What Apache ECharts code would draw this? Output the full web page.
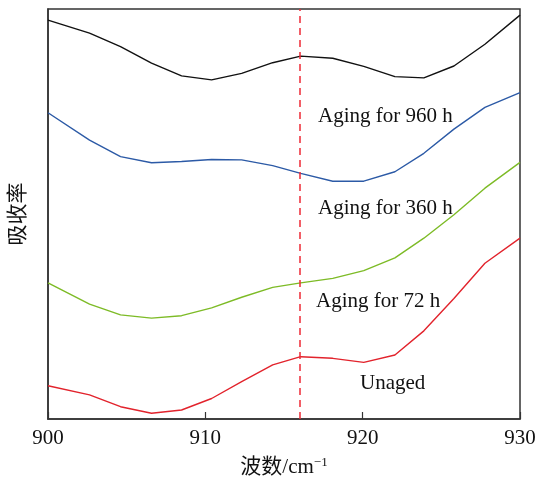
<!DOCTYPE html>
<html>
<head>
<meta charset="utf-8">
<script src="https://cdn.jsdelivr.net/npm/echarts@6/dist/echarts.min.js"></script>
<style>
  html, body { margin: 0; padding: 0; background: #fff; }
  #chart { width: 545px; height: 480px; }
</style>
</head>
<body>
<div id="chart"></div>
<script>
// 波数 (cm-1)
const wavenumbers = [900, 902.64, 904.61, 906.58, 908.49, 910.4, 912.31, 914.28, 916.06, 918.1, 920.07, 922.05, 923.89, 925.8, 927.77, 930]
// 吸收率, arbitrary units
const aged960 = [97.3, 94.1, 90.8, 86.8, 83.7, 82.7, 84.3, 86.9, 88.5, 88.0, 86.0, 83.5, 83.2, 86.1, 91.4, 98.5]
const aged360 = [74.7, 68.0, 64.0, 62.5, 62.8, 63.3, 63.2, 61.8, 59.9, 58.0, 58.0, 60.3, 64.8, 70.7, 76.0, 79.6]
const aged72 = [33.2, 28.0, 25.4, 24.6, 25.2, 27.1, 29.7, 32.1, 33.2, 34.3, 36.2, 39.3, 44.1, 49.8, 56.3, 62.6]
const unaged = [8.1, 5.9, 3.0, 1.4, 2.2, 5.0, 9.1, 13.2, 15.2, 14.8, 13.8, 15.6, 21.5, 29.4, 38.0, 44.1]
const xTicks = [900, 910, 920, 930]
const markX = 916

const serif = '"Liberation Serif", "Times New Roman", "Noto Sans CJK SC", serif'

function pairs(ys) {
  return wavenumbers.map((x, i) => [x, ys[i]])
}

function line(name, ys, color) {
  return {
    name: name,
    type: 'line',
    data: pairs(ys),
    showSymbol: false,
    smooth: false,
    lineStyle: { color: color, width: 1.4 },
    silent: true,
  }
}

const chart = echarts.init(document.getElementById('chart'), null, { renderer: 'canvas' })

const series = [
  line('Aging for 960 h', aged960, '#111111'),
  line('Aging for 360 h', aged360, '#2c5aa6'),
  line('Aging for 72 h', aged72, '#7dbb26'),
  line('Unaged', unaged, '#e2232c'),
]
// 虚线标记 916
series[3].markLine = {
  symbol: 'none',
  silent: true,
  label: { show: false },
  lineStyle: { color: '#ee2a36', type: [7, 5], width: 1.5 },
  data: [{ xAxis: markX }],
}

const textStyle = { fontFamily: serif, fontSize: 21, fill: '#111' }

chart.setOption({
  animation: false,
  backgroundColor: '#fff',
  grid: {
    left: 48,
    right: 25,
    top: 9,
    bottom: 61,
    outerBoundsMode: 'none',
    containLabel: false,
    show: true,
    borderColor: '#333',
    borderWidth: 1.5,
  },
  xAxis: {
    type: 'value',
    min: xTicks[0],
    max: xTicks[xTicks.length - 1],
    interval: 10,
    name: '{a|波数/cm}{b|−1}',
    nameLocation: 'middle',
    nameGap: 37,
    nameTextStyle: {
      rich: {
        a: { fontFamily: serif, fontSize: 21, color: '#111' },
        b: { fontFamily: serif, fontSize: 13, color: '#111', padding: [0, 0, 10, 0] },
      },
    },
    axisLine: { show: true, lineStyle: { color: '#333', width: 1.5 } },
    axisTick: { show: true, inside: true, length: 7, lineStyle: { color: '#333', width: 1.2 } },
    axisLabel: { fontFamily: serif, fontSize: 21, color: '#111', margin: 9 },
    splitLine: { show: false },
  },
  yAxis: {
    type: 'value',
    min: 0,
    max: 100,
    name: '吸收率',
    nameLocation: 'middle',
    nameRotate: 90,
    nameGap: 19,
    nameTextStyle: { fontFamily: serif, fontSize: 21, color: '#111' },
    axisLine: { show: true, lineStyle: { color: '#333', width: 1.5 } },
    axisTick: { show: false },
    axisLabel: { show: false },
    splitLine: { show: false },
  },
  graphic: [
    { type: 'text', left: 318, top: 106, style: Object.assign({ text: 'Aging for 960 h' }, textStyle) },
    { type: 'text', left: 318, top: 198, style: Object.assign({ text: 'Aging for 360 h' }, textStyle) },
    { type: 'text', left: 316, top: 291, style: Object.assign({ text: 'Aging for 72 h' }, textStyle) },
    { type: 'text', left: 360, top: 373, style: Object.assign({ text: 'Unaged' }, textStyle) },
  ],
  series: series,
})
</script>
</body>
</html>
